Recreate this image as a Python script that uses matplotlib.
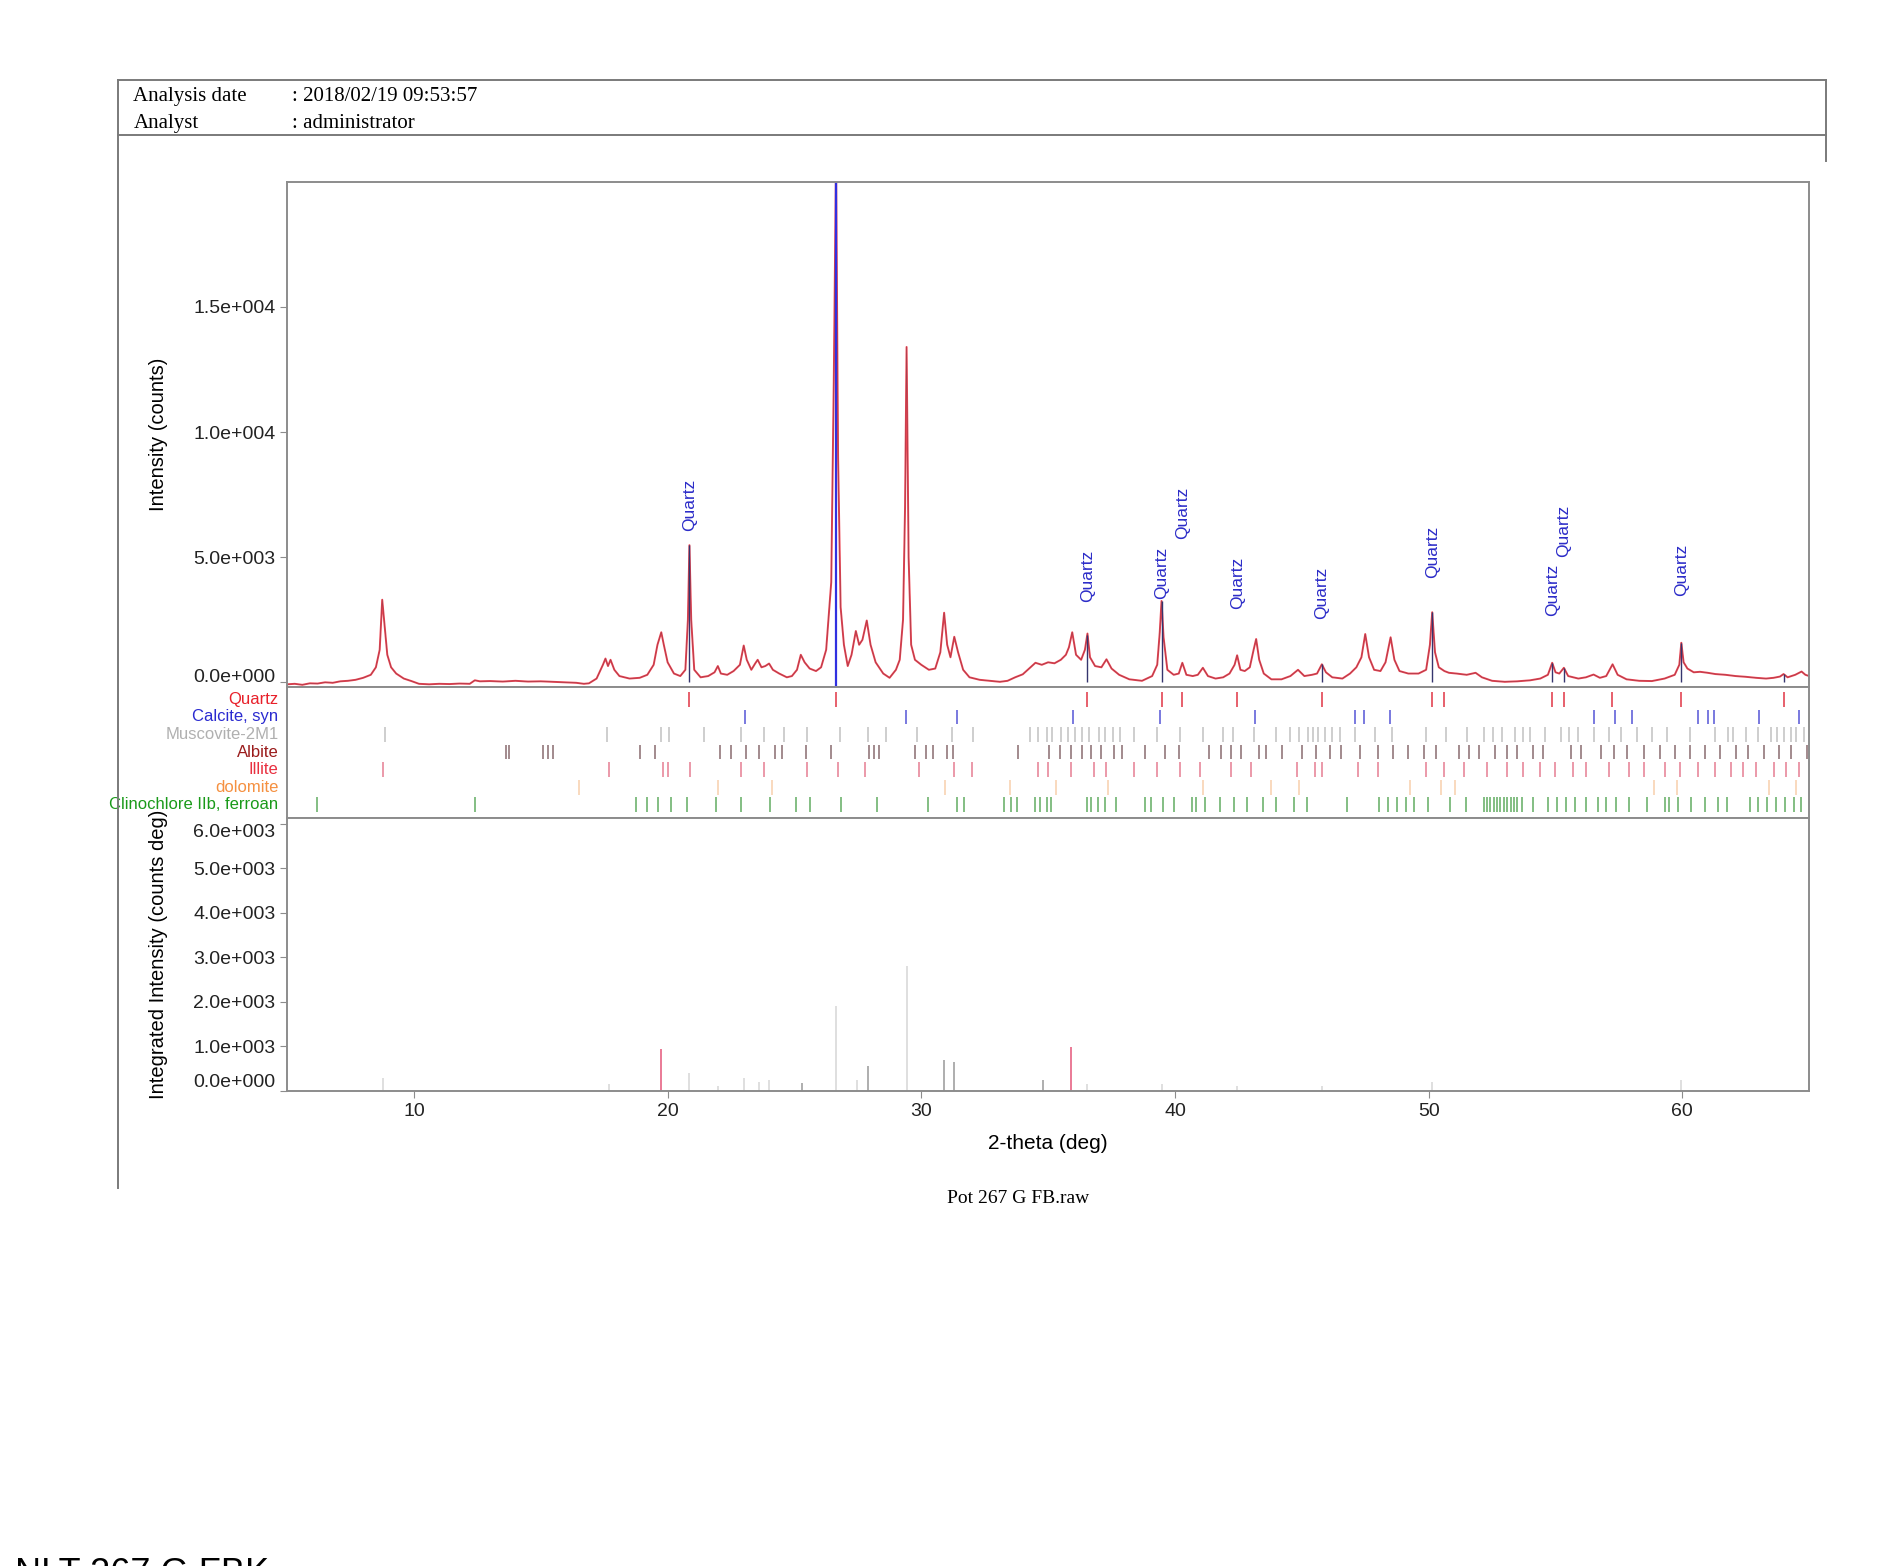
import numpy as np
import matplotlib.pyplot as plt
from matplotlib.lines import Line2D
from matplotlib.ticker import FuncFormatter

plt.rcParams['font.family'] = ['Liberation Sans', 'DejaVu Sans']

two_theta = [5.0, 5.3, 5.6, 5.9, 6.2, 6.5, 6.8, 7.1, 7.4, 7.7, 8.0, 8.3, 8.5, 8.65, 8.75, 8.85, 8.95, 9.1,
             9.3, 9.6, 9.9, 10.2, 10.6, 11.0, 11.4, 11.8, 12.2, 12.4, 12.6, 13.0, 13.5, 14.0, 14.5, 15.0,
             15.5, 16.0, 16.4, 16.7, 16.9, 17.2, 17.45, 17.55, 17.65, 17.75, 17.9, 18.1, 18.5, 18.9, 19.2,
             19.45, 19.6, 19.75, 19.85, 20.0, 20.25, 20.5, 20.7, 20.8, 20.86, 20.93, 21.05, 21.3, 21.6,
             21.85, 21.98, 22.1, 22.35, 22.6, 22.85, 23.0, 23.12, 23.3, 23.45, 23.55, 23.7, 23.85, 24.0,
             24.15, 24.4, 24.7, 24.9, 25.1, 25.25, 25.4, 25.6, 25.85, 26.05, 26.25, 26.45, 26.55, 26.64,
             26.72, 26.82, 26.95, 27.1, 27.25, 27.42, 27.55, 27.68, 27.85, 28.0, 28.2, 28.5, 28.75, 29.0,
             29.15, 29.28, 29.36, 29.42, 29.5, 29.6, 29.75, 30.0, 30.3, 30.55, 30.75, 30.9, 31.02, 31.15,
             31.3, 31.45, 31.65, 31.9, 32.3, 32.7, 33.1, 33.4, 33.7, 34.0, 34.25, 34.5, 34.75, 35.0, 35.25,
             35.5, 35.7, 35.82, 35.95, 36.1, 36.3, 36.45, 36.55, 36.65, 36.85, 37.1, 37.3, 37.5, 37.8,
             38.2, 38.7, 39.1, 39.3, 39.4, 39.47, 39.55, 39.7, 39.95, 40.15, 40.29, 40.45, 40.7, 40.9,
             41.1, 41.3, 41.6, 41.9, 42.15, 42.35, 42.45, 42.58, 42.75, 42.95, 43.1, 43.2, 43.32, 43.5,
             43.8, 44.2, 44.55, 44.85, 45.1, 45.4, 45.6, 45.79, 45.95, 46.2, 46.6, 46.9, 47.15, 47.35,
             47.5, 47.65, 47.85, 48.1, 48.3, 48.5, 48.65, 48.85, 49.2, 49.6, 49.9, 50.05, 50.14, 50.25,
             50.4, 50.62, 50.8, 51.1, 51.5, 51.85, 52.1, 52.5, 53.0, 53.5, 54.0, 54.4, 54.7, 54.87, 55.0,
             55.15, 55.33, 55.5, 55.9, 56.2, 56.5, 56.75, 57.0, 57.25, 57.45, 57.8, 58.3, 58.8, 59.3,
             59.7, 59.88, 59.96, 60.05, 60.2, 60.45, 60.7, 61.0, 61.3, 61.7, 62.1, 62.5, 62.9, 63.3,
             63.6, 63.85, 63.99, 64.15, 64.45, 64.7, 64.85, 65.0]
counts = [-80, -60, -100, -40, -50, 0, -20, 40, 60, 100, 180, 300, 600, 1300, 3300, 2200, 1100, 600,
          350, 150, 50, -60, -80, -60, -70, -50, -60, 80, 40, 50, 30, 60, 30, 40,
          20, 0, -20, -60, -40, 150, 700, 950, 650, 900, 500, 250, 150, 180, 300,
          700, 1500, 2000, 1500, 800, 350, 250, 500, 2500, 5480, 2500, 500, 200, 250,
          400, 650, 350, 300, 450, 700, 1470, 900, 500, 750, 900, 600, 650, 750,
          500, 350, 200, 250, 500, 1100, 800, 550, 450, 600, 1300, 4000, 12000, 21000,
          9000, 3000, 1500, 650, 1100, 2050, 1500, 1700, 2470, 1500, 800, 350, 180, 500,
          900, 2500, 7000, 13400, 5000, 1500, 900, 700, 500, 550, 1200, 2780, 1500, 1000,
          1820, 1200, 500, 200, 100, 60, 20, 60, 200, 320, 550, 780, 700, 800, 760,
          900, 1100, 1400, 2000, 1100, 900, 1300, 1950, 1000, 650, 600, 920, 550, 300,
          120, 60, 250, 700, 2000, 3250, 1800, 500, 300, 350, 780, 300, 250, 300,
          580, 250, 150, 200, 350, 700, 1080, 500, 450, 600, 1300, 1730, 900, 350,
          120, 120, 250, 500, 250, 300, 350, 720, 400, 200, 150, 350, 600, 1000,
          1930, 1000, 500, 450, 800, 1800, 900, 450, 350, 350, 500, 1500, 2800, 1200,
          600, 450, 380, 350, 300, 380, 200, 60, 20, 40, 80, 150, 300, 780, 400,
          350, 580, 250, 150, 200, 310, 180, 250, 720, 300, 120, 60, 50, 150,
          300, 700, 1580, 800, 550, 400, 420, 380, 330, 300, 250, 220, 180, 150,
          180, 230, 330, 200, 300, 430, 300, 250]

# identified quartz peaks and where their labels sit
quartz_label_x = [20.86, 36.54, 39.47, 40.29, 42.45, 45.79, 50.14, 54.87, 55.33, 59.96]
quartz_label_y = [6060, 3210, 3330, 5720, 2920, 2540, 4180, 2630, 5000, 3450]
quartz_peak_lines = [20.86, 36.54, 39.47, 45.79, 50.14, 54.87, 55.33, 59.96, 63.99]

# reference card positions
phase_names = ['Quartz', 'Calcite, syn', 'Muscovite-2M1', 'Albite', 'Illite', 'dolomite',
               'Clinochlore IIb, ferroan']
quartz_pos = [20.86, 26.64, 36.54, 39.47, 40.29, 42.45, 45.79, 50.14, 50.62, 54.87, 55.33, 57.24,
              59.96, 63.99]
calcite_pos = [23.06, 29.41, 31.42, 35.97, 39.40, 43.16, 47.08, 47.45, 48.48, 56.52, 57.35, 58.0,
               60.62, 61.03, 61.25, 63.02, 64.6]
muscovite_pos = [8.84, 17.62, 19.75, 20.05, 21.45, 22.9, 23.8, 24.6, 25.5, 26.8, 27.9, 28.6, 29.85,
                 31.2, 32.05, 34.3, 34.6, 34.95, 35.15, 35.5, 35.8, 36.05, 36.35, 36.6, 37.0, 37.25,
                 37.55, 37.85, 38.4, 39.3, 40.2, 41.1, 41.9, 42.3, 43.1, 44.0, 44.55, 44.9, 45.25,
                 45.45, 45.65, 45.9, 46.2, 46.5, 47.1, 47.9, 48.55, 49.9, 50.7, 51.5, 52.2, 52.55,
                 52.9, 53.4, 53.7, 54.0, 54.6, 55.2, 55.55, 55.9, 56.5, 57.1, 57.6, 58.2, 58.8, 59.4,
                 60.3, 61.3, 61.8, 62.0, 62.5, 63.0, 63.5, 63.75, 64.0, 64.3, 64.5, 64.8]
albite_pos = [13.62, 13.75, 15.1, 15.3, 15.5, 18.9, 19.5, 22.05, 22.5, 23.1, 23.6, 24.25, 24.5,
              25.45, 26.45, 27.95, 28.15, 28.35, 29.75, 30.2, 30.45, 31.0, 31.25, 33.8, 35.05,
              35.45, 35.9, 36.35, 36.7, 37.1, 37.6, 37.9, 38.8, 39.6, 40.15, 41.35, 41.8, 42.2,
              42.6, 43.3, 43.6, 44.2, 45.0, 45.55, 46.1, 46.55, 47.3, 48.0, 48.6, 49.2, 49.8,
              50.3, 51.2, 51.6, 52.0, 52.6, 53.1, 53.5, 54.1, 54.5, 55.6, 56.0, 56.8, 57.3, 57.8,
              58.5, 59.1, 59.7, 60.3, 60.9, 61.5, 62.1, 62.6, 63.2, 63.8, 64.3, 64.9]
illite_pos = [8.8, 17.7, 19.8, 20.0, 20.9, 22.9, 23.8, 25.5, 26.7, 27.8, 29.9, 31.3, 32.0, 34.6,
              35.0, 35.9, 36.8, 37.3, 38.4, 39.3, 40.2, 41.0, 42.2, 43.0, 44.8, 45.5, 45.8, 47.2,
              48.0, 49.9, 50.6, 51.4, 52.3, 53.1, 53.7, 54.4, 55.0, 55.7, 56.2, 57.1, 57.9, 58.5,
              59.3, 59.9, 60.6, 61.3, 61.9, 62.4, 62.9, 63.6, 64.1, 64.6]
dolomite_pos = [16.5, 22.0, 24.1, 30.94, 33.5, 35.3, 37.35, 41.1, 43.8, 44.9, 49.25, 50.5, 51.05,
                58.9, 59.8, 63.4, 64.5]
clinochlore_pos = [6.17, 12.4, 18.74, 19.18, 19.62, 20.15, 20.77, 21.91, 22.88, 24.02, 25.08, 25.61,
                   26.84, 28.25, 30.27, 31.41, 31.68, 33.27, 33.53, 33.79, 34.49, 34.67, 34.94,
                   35.11, 36.52, 36.7, 36.96, 37.23, 37.67, 38.81, 39.07, 39.51, 39.96, 40.66,
                   40.84, 41.17, 41.78, 42.32, 42.84, 43.46, 43.99, 44.69, 45.22, 46.8, 48.04,
                   48.39, 48.74, 49.09, 49.44, 49.97, 50.85, 51.47, 52.17, 52.3, 52.43, 52.56,
                   52.7, 52.83, 52.96, 53.1, 53.23, 53.36, 53.49, 53.67, 54.1, 54.72, 55.07, 55.42,
                   55.77, 56.21, 56.66, 57.01, 57.37, 57.89, 58.6, 59.3, 59.48, 59.83, 60.36,
                   60.89, 61.42, 61.77, 62.65, 63.0, 63.35, 63.7, 64.05, 64.4, 64.66]

# integrated intensity sticks
stick_x = [8.8, 17.7, 19.75, 20.86, 22.0, 23.0, 23.6, 24.0, 25.3, 26.64, 27.45, 27.9, 29.42, 30.9,
           31.3, 34.8, 35.9, 36.55, 39.47, 42.45, 45.8, 50.14, 59.96]
stick_h = [300, 150, 930, 400, 100, 300, 200, 250, 180, 1900, 250, 560, 2800, 700,
           650, 250, 980, 150, 150, 100, 120, 200, 250]
stick_kind = ['f', 'f', 'p', 'f', 'f', 'f', 'f', 'f', 'g', 'f', 'f', 'g', 'f', 'g',
              'g', 'g', 'p', 'f', 'f', 'f', 'f', 'f', 'f']

spine_col = '#8c8c8c'


def sci(v, pos):
    if v == 0:
        return '0.0e+000'
    e = int(np.floor(np.log10(abs(v))))
    return f"{v / 10 ** e:.1f}e+{e:03d}"


fig = plt.figure(figsize=(19, 15.66), dpi=100)

# report frame
for xs, ys in [([0.0619, 0.9611], [0.9489, 0.9489]), ([0.0619, 0.9611], [0.9141, 0.9141]),
               ([0.0619, 0.0619], [0.9489, 0.2415]), ([0.9611, 0.9611], [0.9489, 0.8971])]:
    fig.add_artist(Line2D(xs, ys, color='#7a7a7a', lw=1.4))

serif = ['Liberation Serif', 'DejaVu Serif']
fig.text(0.0702, 0.9381, 'Analysis date', family=serif, fontsize=15, va='center')
fig.text(0.1537, 0.9381, ': 2018/02/19 09:53:57', family=serif, fontsize=15, va='center')
fig.text(0.0702, 0.9211, 'Analyst', family=serif, fontsize=15, va='center')
fig.text(0.1537, 0.9211, ': administrator', family=serif, fontsize=15, va='center')

# --- pattern
ax1 = fig.add_axes([0.1511, 0.5611, 0.8011, 0.3228])
ax1.plot(two_theta, counts, color='#ee4452', lw=1.4)
ax1.plot(two_theta, counts, color='#7a3a48', lw=0.5, alpha=0.6)
ax1.axvline(26.64, color='#3030e0', lw=1.6)
peak_top = np.interp(quartz_peak_lines, two_theta, counts)
ax1.vlines(quartz_peak_lines, 0, peak_top, color='#35356e', lw=1.0)
for x, yb in zip(quartz_label_x, quartz_label_y):
    ax1.text(x, yb, 'Quartz', rotation=90, ha='center', va='bottom', color='#2c2cc8', fontsize=12.5)
ax1.set_xlim(5, 65)
ax1.set_ylim(-200, 20000)
ax1.set_yticks([0, 5000, 10000, 15000])
ax1.yaxis.set_major_formatter(FuncFormatter(sci))
ax1.tick_params(axis='x', bottom=False, labelbottom=False)
ax1.tick_params(axis='y', length=5, color=spine_col, labelsize=14, labelcolor='#222222')
ax1.set_ylabel('Intensity (counts)', fontsize=14.5)
ax1.yaxis.set_label_coords(-0.0785, 0.5)
ax1.yaxis.get_major_ticks()[0].label1.set_va('baseline')

# --- phase markers
ax2 = fig.add_axes([0.1511, 0.4776, 0.8011, 0.0835])
phase_pos = [quartz_pos, calcite_pos, muscovite_pos, albite_pos, illite_pos, dolomite_pos,
             clinochlore_pos]
tick_cols = ['#e03040', '#3a3ad0', '#b8b8b8', '#6e4a4e', '#e0607a', '#f2a868', '#4aa04a']
label_cols = ['#e8202a', '#2a2ad0', '#b0b0b0', '#9a1c1c', '#e83040', '#f59040', '#1a9a1a']
tick_alpha = [0.9, 0.8, 0.8, 0.75, 0.75, 0.5, 0.8]
for i, name in enumerate(phase_names):
    c = 6 - i
    ax2.vlines(phase_pos[i], c - 0.42, c + 0.42, color=tick_cols[i], lw=1.2, alpha=tick_alpha[i])
    ax2.text(-0.0056, c, name, transform=ax2.get_yaxis_transform(), ha='right', va='center',
             color=label_cols[i], fontsize=12)
ax2.set_xlim(5, 65)
ax2.set_ylim(-0.76, 6.69)
ax2.set_xticks([])
ax2.set_yticks([])

# --- integrated intensity
ax3 = fig.add_axes([0.1511, 0.3034, 0.8011, 0.1742])
kind_col = {'f': '#dcdcdc', 'g': '#a8a8a8', 'p': '#e8708e'}
ax3.vlines(stick_x, 0, stick_h, color=[kind_col[k] for k in stick_kind], lw=1.3)
ax3.set_xlim(5, 65)
ax3.set_ylim(0, 6130)
ax3.set_yticks([0, 1000, 2000, 3000, 4000, 5000, 6000])
ax3.yaxis.set_major_formatter(FuncFormatter(sci))
ax3.set_xticks([10, 20, 30, 40, 50, 60])
ax3.tick_params(length=5, color=spine_col, labelsize=14, labelcolor='#222222')
ax3.set_xlabel('2-theta (deg)', fontsize=15, labelpad=10)
ax3.set_ylabel('Integrated Intensity (counts deg)', fontsize=14.5)
ax3.yaxis.set_label_coords(-0.0785, 0.5)
yt = ax3.yaxis.get_major_ticks()
yt[0].label1.set_va('bottom')
yt[-1].label1.set_va('top')

for ax in (ax1, ax2, ax3):
    for s in ax.spines.values():
        s.set_color(spine_col)
        s.set_linewidth(1.4)

fig.text(0.5357, 0.2345, 'Pot 267 G FB.raw', family=serif, fontsize=14, ha='center', va='center')
fig.text(0.008, -0.0115, 'NLT 267 G FBK', fontsize=26, va='baseline')

fig.savefig('out.png', dpi=100)
